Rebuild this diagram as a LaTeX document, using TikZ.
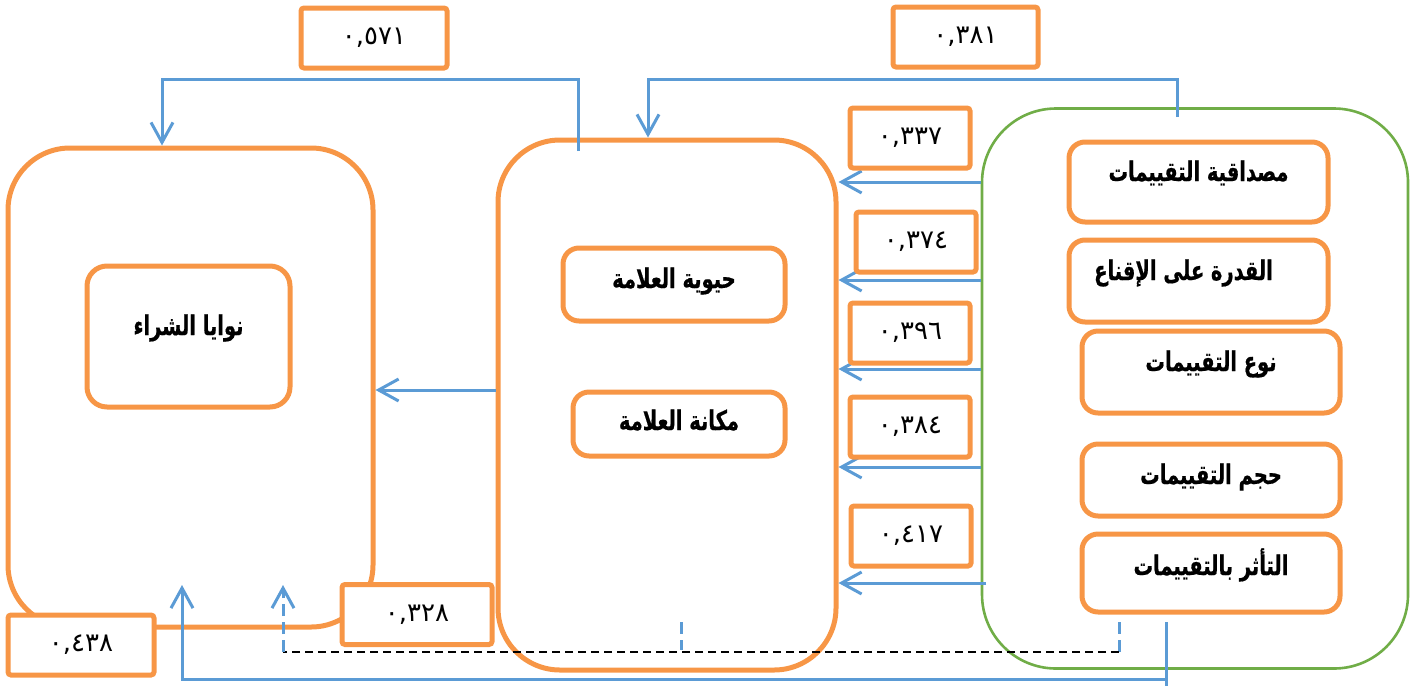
\documentclass[tikz,border=0pt]{standalone}
\usepackage{fontspec}
\usetikzlibrary{arrows.meta}
\TeXXeTstate=1
\newfontfamily\arabicfont[Script=Arabic,FakeStretch=0.72,FakeBold=0.6]{DejaVu Sans}
\newfontfamily\numfont{DejaVu Sans}
\definecolor{ora}{HTML}{F79646}
\definecolor{blu}{HTML}{5B9BD5}
\definecolor{grn}{HTML}{70AD47}
\begin{document}
\begin{tikzpicture}[x=0.5pt,y=-0.5pt,
  bigbox/.style={draw=ora,line width=2.5pt,rounded corners=31pt,inner sep=0pt},
  inbox/.style={draw=ora,line width=2.5pt,rounded corners=8pt,fill=white,inner sep=0pt,
    font=\arabicfont\bfseries\fontsize{13.5}{15}\selectfont,text height=8.5pt,text depth=3pt},
  valbox/.style={draw=ora,line width=2.5pt,rounded corners=1.5pt,fill=white,inner sep=0pt,
    minimum width=60pt,minimum height=30pt,font=\numfont\fontsize{13}{15}\selectfont},
  arr/.style={draw=blu,line width=1.5pt,-{Straight Barb[length=10pt,width=11pt]}},
  bl/.style={draw=blu,line width=1.5pt},
  bldash/.style={draw=blu,line width=1.5pt,dash pattern=on 6pt off 3pt},
  blackdash/.style={draw=black,line width=1pt,dash pattern=on 4pt off 2.5pt}]
\useasboundingbox (0,0) rectangle (1416,691);
% big containers
\node[bigbox,minimum width=182.5pt,minimum height=239.5pt] (pi) at (190.5,387.5) {};
\node[bigbox,minimum width=169pt,minimum height=265pt] (br) at (667,405) {};
\node[bigbox,draw=grn,line width=1.3pt,rounded corners=37pt,minimum width=213pt,minimum height=280pt] (rv) at (1195,388.5) {};
% inner boxes
\node[inbox,rounded corners=10pt,minimum width=101.5pt,minimum height=70.5pt,text depth=10pt] (piin) at (188.5,336.5) {\beginR نوايا الشراء\endR};
\node[inbox,minimum width=111pt,minimum height=36.5pt,text depth=5pt] (viv) at (674,284.5) {\beginR حيوية العلامة\endR};
\node[inbox,minimum width=106pt,minimum height=32pt,text depth=2.5pt] (pos) at (679,424) {\beginR مكانة العلامة\endR};
\node[inbox,minimum width=129.5pt,minimum height=40pt,text depth=9.5pt] (cred) at (1198.5,182) {\beginR مصداقية التقييمات\endR};
\node[inbox,minimum width=129.5pt,minimum height=41pt,text depth=9.5pt] (pers) at (1198.5,281) {\beginR القدرة على الإقناع\endR\hspace*{15pt}};
\node[inbox,minimum width=129pt,minimum height=41pt,text depth=9.5pt] (type) at (1211,372) {\beginR نوع التقييمات\endR};
\node[inbox,minimum width=129pt,minimum height=36pt,text depth=4.5pt] (vol) at (1211,480) {\beginR حجم التقييمات\endR};
\node[inbox,minimum width=129pt,minimum height=39pt,text depth=6.5pt] (infl) at (1211,573) {\beginR التأثر بالتقييمات\endR};
% connectors
\coordinate (s1) at (578,151);
\draw[arr] (s1) |- (162,79) -- (pi.north -| 162,0);
\coordinate (s2) at (1177,117);
\draw[arr] (s2) |- (648,79) -- (br.north -| 648,0);
\draw[arr] (rv.west |- 0,182) -- (br.east |- 0,182);
\draw[arr] (rv.west |- 0,280) -- (br.east |- 0,280);
\draw[arr] (rv.west |- 0,369) -- (br.east |- 0,369);
\draw[arr] (rv.west |- 0,467) -- (br.east |- 0,467);
\coordinate (s5) at (986,583);
\draw[arr] (s5) -- (br.east |- s5);
\draw[arr] (br.west |- 0,390) -- (pi.east |- 0,390);
\coordinate (s6) at (1166,622);
\coordinate (e6) at (182,585);
\draw[bl] (s6) -- ++(0,64);
\draw[arr] (s6 |- 0,679) -| (e6);
\coordinate (d1) at (1119,622);
\coordinate (d2) at (283,585);
\coordinate (d3) at (681,622);
\draw[bldash] (d1) -- (1119,652);
\draw[blackdash] (1119,652) -- (283,652);
\draw[bldash,-{Straight Barb[length=10pt,width=11pt]}] (283,652) -- (d2);
\draw[bldash] (d3) -- (681,650);
% value boxes
\node[valbox,minimum width=73pt] (v571) at (374,38) {٠,٥٧١};
\node[valbox,minimum width=72.5pt] (v381) at (965.5,37) {٠,٣٨١};
\node[valbox] (v337) at (910,138) {٠,٣٣٧};
\node[valbox] (v374) at (916,242) {٠,٣٧٤};
\node[valbox] (v396) at (910,333) {٠,٣٩٦};
\node[valbox] (v384) at (910,427) {٠,٣٨٤};
\node[valbox] (v417) at (911,536) {٠,٤١٧};
\node[valbox,minimum width=75pt] (v328) at (417,614.5) {٠,٣٢٨};
\node[valbox,minimum width=73pt] (v438) at (81,645) {٠,٤٣٨};
\end{tikzpicture}
\end{document}
